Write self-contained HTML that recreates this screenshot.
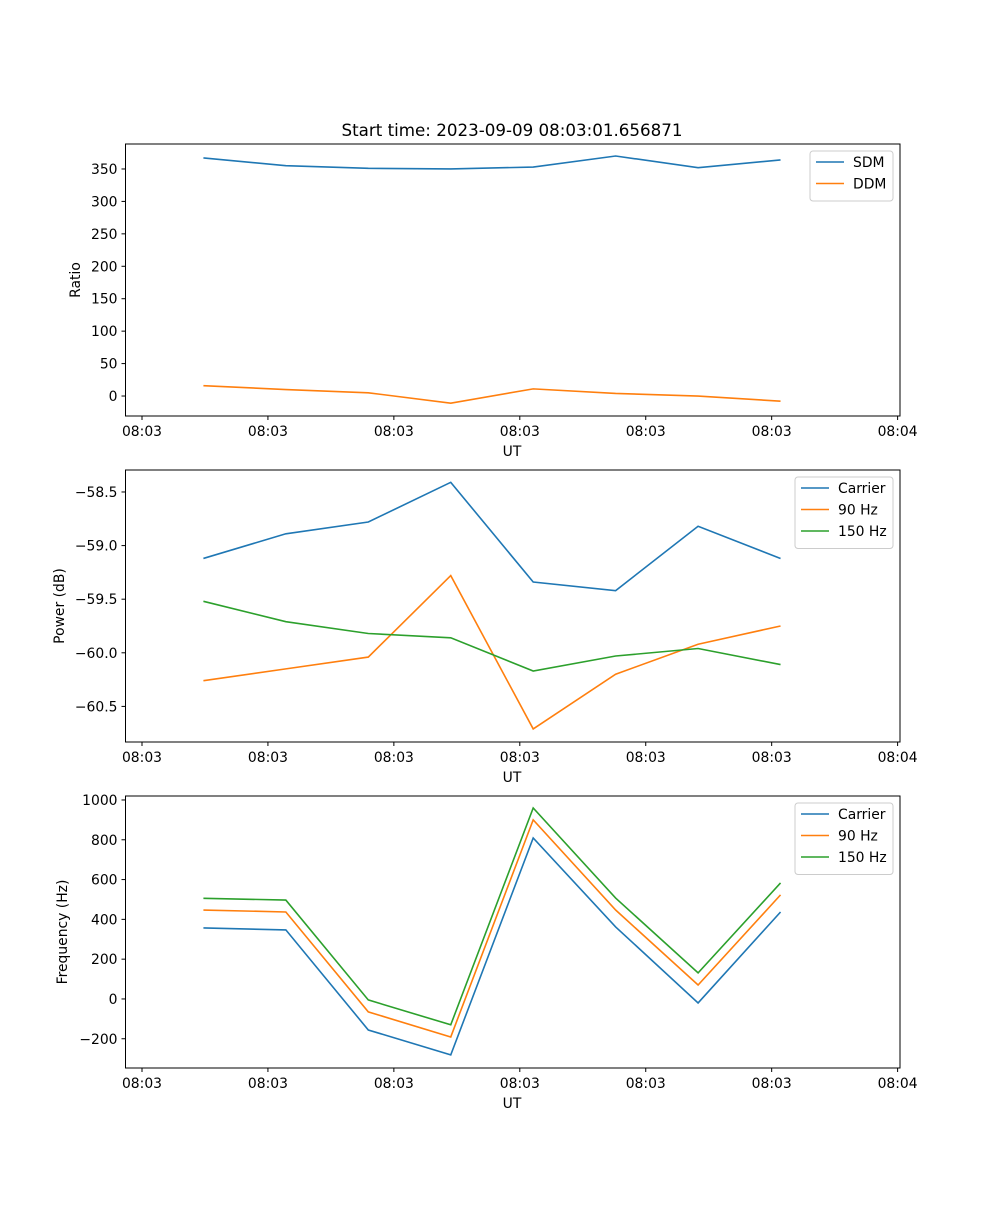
<!DOCTYPE html>
<html><head><meta charset="utf-8"><style>
body{margin:0;background:#fff}
svg text{font-family:"DejaVu Sans","Liberation Sans",sans-serif;font-size:13.9px;fill:#000}
</style></head><body>
<svg id="chart" width="1000" height="1200" xmlns="http://www.w3.org/2000/svg">
<text x="512" y="136" text-anchor="middle" style="font-size:16.7px">Start time: 2023-09-09 08:03:01.656871</text>
</svg>
<script>
const xIdx = [0,1,2,3,4,5,6,7];
const xTickLabels = ["08:03","08:03","08:03","08:03","08:03","08:03","08:04"];
const sdm = [367,355,351,350,353,370,352,364];
const ddm = [16,10,5,-11,11,4,0,-8];
const pCarrier = [-59.12,-58.89,-58.78,-58.41,-59.34,-59.42,-58.82,-59.12];
const p90 = [-60.26,-60.15,-60.04,-59.28,-60.71,-60.20,-59.92,-59.75];
const p150 = [-59.52,-59.71,-59.82,-59.86,-60.17,-60.03,-59.96,-60.11];
const fCarrier = [357,347,-156,-281,809,362,-20,437];
const f90 = [447,437,-65,-191,900,447,70,523];
const f150 = [506,497,-5,-130,960,507,131,583];
const ticks1 = [0,50,100,150,200,250,300,350];
const ticks2 = [-60.5,-60.0,-59.5,-59.0,-58.5];
const ticks3 = [-200,0,200,400,600,800,1000];

const NS="http://www.w3.org/2000/svg";
const svg=document.getElementById('chart');
const L=125.5,R=900;
const tMin=-0.945,tMax=8.449;
const xTickT0=-0.745, xTickStep=1.5275;
function X(t){return L+(t-tMin)/(tMax-tMin)*(R-L);}
function el(tag,attrs,parent){const e=document.createElementNS(NS,tag);for(const k in attrs)e.setAttribute(k,attrs[k]);(parent||svg).appendChild(e);return e;}
const C={b:'#1f77b4',o:'#ff7f0e',g:'#2ca02c'};

function panel(name,top,bot,ymin,ymax,yt,fmt,ylabel,ylabelX,series,legW){
  const g=el('g',{});
  
  
  const Y=v=>bot-(v-ymin)/(ymax-ymin)*(bot-top);
  series.forEach(s=>{
    const p=el('polyline',{points:s.d.map((v,i)=>X(xIdx[i])+','+Y(v)).join(' '),fill:'none',stroke:s.c,'stroke-width':1.6},g);
    
    
  });
  const fr=el('rect',{x:L,y:top,width:R-L,height:bot-top,fill:'none',stroke:'#000','stroke-width':1},g);
  
  
  yt.forEach(v=>{
    const y=Y(v);
    el('line',{x1:L-4,x2:L,y1:y,y2:y,stroke:'#000'},g);
    const t=el('text',{x:L-8,y:y+5,'text-anchor':'end'},g);t.textContent=fmt(v);
    
    
  });
  xTickLabels.forEach((lab,k)=>{
    const x=X(xTickT0+k*xTickStep);
    el('line',{x1:x,x2:x,y1:bot,y2:bot+4,stroke:'#000'},g);
    const t=el('text',{x:x,y:bot+20,'text-anchor':'middle'},g);t.textContent=lab;
    
    
  });
  const xl=el('text',{x:512,y:bot+40,'text-anchor':'middle'},g);xl.textContent='UT';
  
  
  const cy=(top+bot)/2;
  const yl=el('text',{x:ylabelX,y:cy,'text-anchor':'middle',transform:`rotate(-90 ${ylabelX} ${cy})`},g);yl.textContent=ylabel;
  
  
  const lh=7+series.length*21.5;
  const lx=R-7-legW;
  const lg=el('g',{},g);
  
  
  el('rect',{x:lx,y:top+7,width:legW,height:lh,rx:3,fill:'#fff',stroke:'#ccc'},lg);
  series.forEach((s,i)=>{
    const yy=top+18+i*21.5;
    el('line',{x1:lx+6,x2:lx+34,y1:yy,y2:yy,stroke:s.c,'stroke-width':1.6},lg);
    const t=el('text',{x:lx+43,y:yy+5},lg);t.textContent=s.label;
    
    
  });
}
panel('ratio',144,416,-30.8,388.5,ticks1,v=>String(v),'Ratio',80,
  [{id:'sdm',d:sdm,c:C.b,label:'SDM'},{id:'ddm',d:ddm,c:C.o,label:'DDM'}],83);
panel('power',470,742,-60.832,-58.295,ticks2,v=>(v<0?'\u2212':'')+Math.abs(v).toFixed(1),'Power (dB)',64,
  [{id:'carrier',d:pCarrier,c:C.b,label:'Carrier'},{id:'90hz',d:p90,c:C.o,label:'90 Hz'},{id:'150hz',d:p150,c:C.g,label:'150 Hz'}],98);
panel('frequency',796,1068,-347,1020,ticks3,v=>(v<0?'\u2212':'')+Math.abs(v),'Frequency (Hz)',67,
  [{id:'carrier',d:fCarrier,c:C.b,label:'Carrier'},{id:'90hz',d:f90,c:C.o,label:'90 Hz'},{id:'150hz',d:f150,c:C.g,label:'150 Hz'}],98);
</script>
</body></html>
